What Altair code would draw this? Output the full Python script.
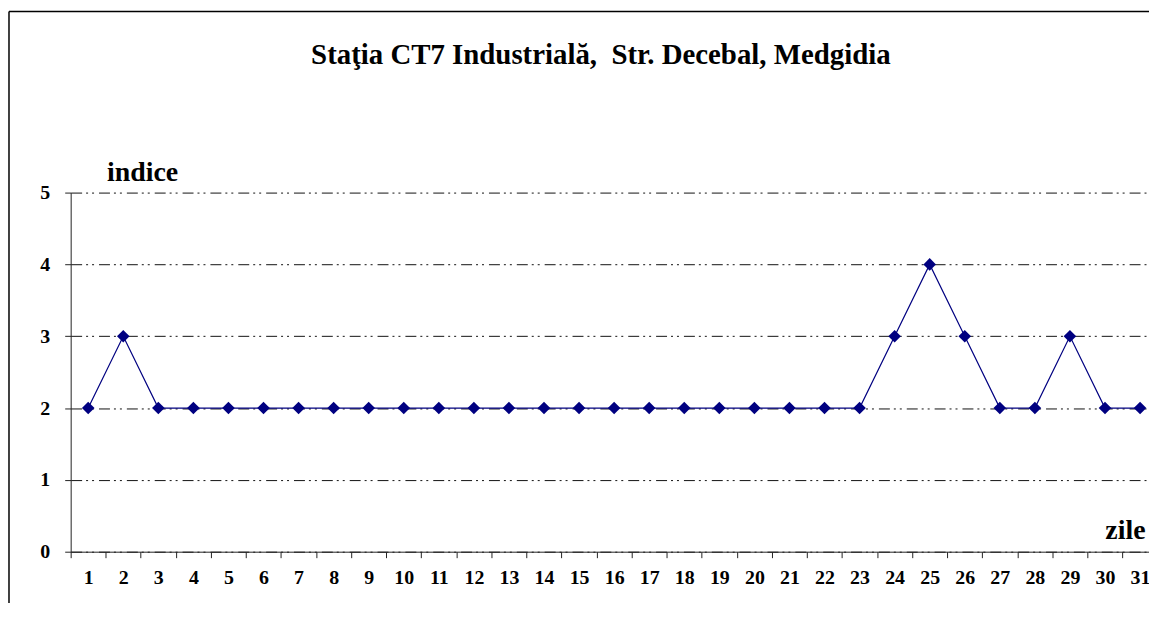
import altair as alt
import pandas as pd

days = [1, 2, 3, 4, 5, 6, 7, 8, 9, 10, 11, 12, 13, 14, 15, 16,
        17, 18, 19, 20, 21, 22, 23, 24, 25, 26, 27, 28, 29, 30, 31]
indice = [2, 3, 2, 2, 2, 2, 2, 2, 2, 2, 2, 2, 2, 2, 2, 2,
          2, 2, 2, 2, 2, 2, 2, 3, 4, 3, 2, 2, 3, 2, 2]
y_ticks = [0, 1, 2, 3, 4, 5]

title_text = "Staţia CT7 Industrială,\u00a0 Str. Decebal, Medgidia"
FONT = "'Liberation Serif', 'Times New Roman', serif"
NAVY = "#000080"

df = pd.DataFrame({"zi": days, "indice": indice})

base = alt.Chart(df).encode(
    x=alt.X(
        "zi:Q",
        scale=alt.Scale(domain=[0.5, 31.255], nice=False, zero=False),
        axis=alt.Axis(
            values=days,
            grid=False,
            tickOffset=-17.62,
            labelOffset=17.62,
            tickSize=6,
            tickColor="#222222",
            domainColor="#222222",
            labelPadding=10,
            labelFont=FONT,
            labelFontSize=20,
            labelFontWeight="bold",
            labelColor="black",
            labelFlush=False,
            labelOverlap=False,
            title="zile",
            titleFont=FONT,
            titleFontSize=28,
            titleFontWeight="bold",
            titleColor="black",
            titleAngle=0,
            titleAlign="right",
            titleBaseline="middle",
            titleX=1080,
            titleY=-21,
        ),
    ),
    y=alt.Y(
        "indice:Q",
        scale=alt.Scale(domain=[0, 5], nice=False),
        axis=alt.Axis(
            values=y_ticks,
            grid=True,
            gridColor="#111111",
            gridDash=[11, 4, 2, 4, 2, 5],
            gridWidth=1,
            tickSize=6,
            tickColor="#222222",
            domainColor="#222222",
            labelPadding=15,
            labelFont=FONT,
            labelFontSize=20,
            labelFontWeight="bold",
            labelColor="black",
            labelFlush=False,
            title="indice",
            titleFont=FONT,
            titleFontSize=28,
            titleFontWeight="bold",
            titleColor="black",
            titleAngle=0,
            titleAlign="left",
            titleBaseline="middle",
            titleX=36,
            titleY=-20,
        ),
    ),
)

line = base.mark_line(color=NAVY, strokeWidth=1.2)
points = base.mark_point(shape="diamond", filled=True, size=160, color=NAVY, opacity=1)

one = pd.DataFrame({"k": [0]})
frame_left = alt.Chart(one).mark_rule(color="black", strokeWidth=1.5).encode(
    x=alt.value(-62), y=alt.value(-182), y2=alt.value(440)
)
frame_top = alt.Chart(one).mark_rule(color="black", strokeWidth=1.5).encode(
    y=alt.value(-182), x=alt.value(-62), x2=alt.value(1100)
)
title = alt.Chart(one).mark_text(
    font=FONT, fontSize=29, fontWeight="bold", color="black",
    align="center", baseline="middle",
).encode(x=alt.value(533), y=alt.value(-138), text=alt.value(title_text))

chart = alt.layer(frame_left, frame_top, title, line, points).properties(
    width=1084,
    height=361,
    autosize="none",
    padding={"left": 63, "top": 184, "right": 0, "bottom": 50},
).configure_view(stroke=None)

chart.save("out.html", embed_options={"renderer": "svg", "actions": False})
